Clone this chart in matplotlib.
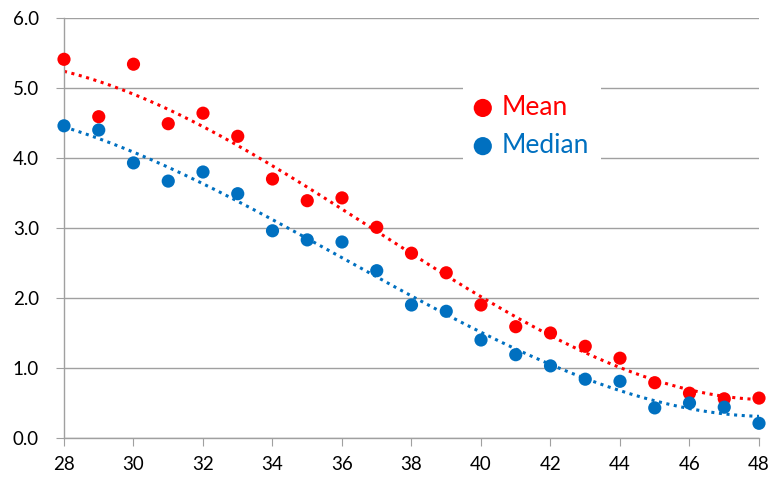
import numpy as np
import matplotlib
matplotlib.use("Agg")
import matplotlib.pyplot as plt

ages = [28, 29, 30, 31, 32, 33, 34, 35, 36, 37, 38, 39, 40, 41, 42, 43, 44, 45, 46, 47, 48]
mean_vals = [5.41, 4.59, 5.34, 4.49, 4.64, 4.31, 3.70, 3.39, 3.43, 3.01, 2.64, 2.36,
             1.90, 1.59, 1.50, 1.31, 1.14, 0.79, 0.64, 0.56, 0.57]
median_vals = [4.46, 4.40, 3.93, 3.67, 3.80, 3.49, 2.96, 2.83, 2.80, 2.39, 1.90, 1.81,
               1.40, 1.19, 1.03, 0.84, 0.81, 0.43, 0.50, 0.44, 0.21]
x_ticks = [28, 30, 32, 34, 36, 38, 40, 42, 44, 46, 48]
y_ticks = [0.0, 1.0, 2.0, 3.0, 4.0, 5.0, 6.0]

RED = "#FF0000"
BLUE = "#0070C0"
GRID = "#A0A0A0"

plt.rcParams['font.family'] = ['Lato', 'DejaVu Sans']

fig = plt.figure(figsize=(7.73, 4.80), dpi=100)
ax = fig.add_axes([64/773, 42/480, (759-64)/773, (438-18)/480])

x = np.array(ages, dtype=float)
xs = np.linspace(x.min(), x.max(), 300)
for vals, col, lab in [(mean_vals, RED, "Mean"), (median_vals, BLUE, "Median")]:
    coef = np.polyfit(x, np.array(vals), 3)
    ax.plot(xs, np.polyval(coef, xs), color=col, lw=2.2, linestyle=(0, (1, 1.5)),
            zorder=2)
    ax.scatter(x, vals, s=90, color=col, edgecolors='none', zorder=3, label=lab,
               clip_on=False)

ax.set_xlim(28, 48)
ax.set_ylim(0, 6)
ax.set_xticks(x_ticks)
ax.set_yticks(y_ticks)
ax.set_yticklabels([f"{v:.1f}" for v in y_ticks])
ax.yaxis.grid(True, color=GRID, lw=1.0)
ax.set_axisbelow(True)
for s in ['top', 'right']:
    ax.spines[s].set_visible(False)
for s in ['left', 'bottom']:
    ax.spines[s].set_color(GRID)
    ax.spines[s].set_linewidth(1.0)
ax.tick_params(axis='x', length=6, color=GRID, labelsize=13.5, pad=7)
ax.tick_params(axis='y', length=6, color=GRID, labelsize=13.5, pad=12)

leg = ax.legend(loc='upper left', bbox_to_anchor=((463-64)/695, (438-83)/420),
                frameon=True, facecolor='white', edgecolor='none', fancybox=False,
                framealpha=1, fontsize=19, handletextpad=0.4, markerscale=1.38,
                labelspacing=0.5, borderpad=0.45, handlelength=0.6,
                borderaxespad=0, labelcolor=[RED, BLUE])
leg.set_zorder(5)

fig.savefig("out.png", dpi=100)
